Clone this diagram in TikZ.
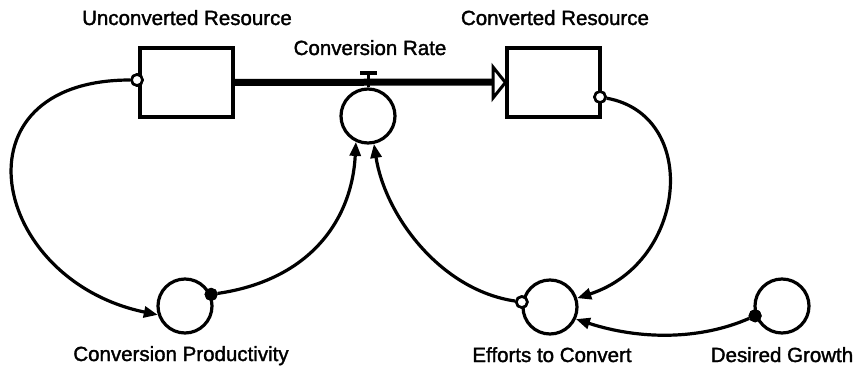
\documentclass[tikz,border=0pt]{standalone}
\usepackage{fontspec}
\newfontfamily\labfont{Liberation Sans}[FakeBold=1.6]
\usetikzlibrary{arrows.meta}
\begin{document}
\begin{tikzpicture}[x=1pt,y=-1pt,
  stock/.style={draw,line width=3.2pt,minimum width=93pt,minimum height=69pt,inner sep=0pt},
  aux/.style={draw,circle,line width=3.2pt,minimum size=54pt,inner sep=0pt},
  lbl/.style={anchor=base,inner sep=0pt,font=\labfont\fontsize{20.5}{24}\selectfont},
  link/.style={line width=3.2pt,-{Triangle[length=14pt,width=11pt]}},
  hollowm/.style={draw,circle,fill=white,line width=2.6pt,minimum size=11pt,inner sep=0pt},
  solidm/.style={draw,circle,fill=black,line width=2pt,minimum size=11pt,inner sep=0pt}]
\useasboundingbox[fill=white] (0,0) rectangle (856,369);
% stocks
\node[stock] (uc) at (186.5,82.5) {};
\node[stock] (cv) at (553.5,82.5) {};
% auxiliaries
\node[aux] (rate) at (368,116) {};
\node[aux] (cp) at (185,306) {};
\node[aux] (eff) at (550,307) {};
\node[aux] (dg) at (782,306) {};
% flow pipe
\coordinate (pipeend) at (493,82);
\draw[line width=7pt] (uc.east) -- (pipeend);
\draw[line width=3pt,fill=white,line join=miter] (493,67) -- (cv.west) -- (493,98) -- cycle;
% valve
\coordinate (valvetop) at (368,73);
\draw[line width=3pt] (rate.north) -- (valvetop);
\draw[line width=3.5pt] (360,73) -- (377,73);
% markers
\node[hollowm] (m1) at (137,80) {};
\node[hollowm] (m2) at (600,97) {};
\node[solidm] (m3) at (cp.24) {};
\node[hollowm] (m4) at (eff.170) {};
\node[solidm] (m5) at (dg.200) {};
% connectors
\draw[link] (m1) .. controls (-50,80) and (-10,280) .. (cp.198);
\draw[link] (m3) .. controls (310,280) and (352,220) .. (rate.245);
\draw[link] (m4) .. controls (440,290) and (385,215) .. (rate.282);
\draw[link] (m2) .. controls (700,115) and (688,262) .. (eff.18);
\draw[link] (m5) .. controls (700,340) and (640,340) .. (eff.335);
% redraw markers on top
\node[hollowm] at (m1) {};
\node[hollowm] at (m2) {};
\node[solidm] at (m3) {};
\node[hollowm] at (m4) {};
\node[solidm] at (m5) {};
% labels
\node[lbl] (t1) at (187,25) {Unconverted Resource};
\node[lbl] (t2) at (555,25) {Converted Resource};
\node[lbl] (t3) at (370,55) {Conversion Rate};
\node[lbl] (t4) at (181,361) {Conversion Productivity};
\node[lbl] (t5) at (552,362) {Efforts to Convert};
\node[lbl] (t6) at (782,362) {Desired Growth};
\end{tikzpicture}
\end{document}
